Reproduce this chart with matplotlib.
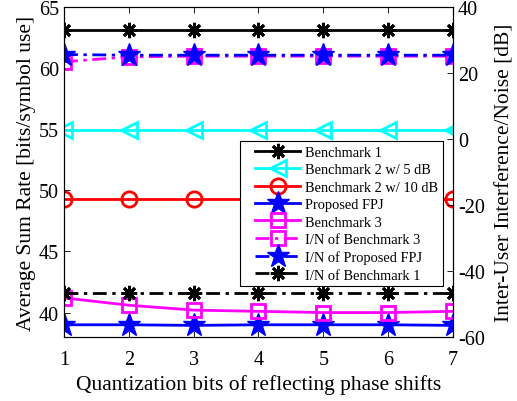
import matplotlib
matplotlib.use("Agg")
import matplotlib.pyplot as plt
from matplotlib.legend_handler import HandlerLine2D

plt.rcParams['font.family'] = ['Liberation Serif', 'DejaVu Serif']
plt.rcParams['axes.unicode_minus'] = False

# data
bits = [1, 2, 3, 4, 5, 6, 7]
bench1 = [63.1, 63.1, 63.1, 63.1, 63.1, 63.1, 63.1]
bench2_5db = [54.9, 54.9, 54.9, 54.9, 54.9, 54.9, 54.9]
bench2_10db = [49.3, 49.3, 49.3, 49.3, 49.3, 49.3, 49.3]
proposed = [39.0, 39.0, 38.95, 39.0, 39.0, 39.0, 38.95]
bench3 = [41.2, 40.6, 40.2, 40.1, 40.0, 40.0, 40.1]

in_bench3 = [23.4, 24.9, 25.1, 25.1, 25.1, 25.1, 25.1]
in_proposed = [25.6, 25.4, 25.4, 25.4, 25.4, 25.4, 25.4]
in_bench1 = [-46.8, -46.8, -46.8, -46.8, -46.8, -46.8, -46.8]

labels = ['Benchmark 1', 'Benchmark 2 w/ 5 dB', 'Benchmark 2 w/ 10 dB',
          'Proposed FPJ', 'Benchmark 3', 'I/N of Benchmark 3',
          'I/N of Proposed FPJ', 'I/N of Benchmark 1']

LW = 2.0
DASHDOT = (5, 2, 1.2, 2)
AST = (8, 2, 0)
PAD = 8.0  # pt of empty space left of the legend lines


class PadHandler(HandlerLine2D):
    # shift the legend line right a bit to leave room next to the frame
    def create_artists(self, legend, orig_handle, xdescent, ydescent,
                       width, height, fontsize, trans):
        return super().create_artists(legend, orig_handle, xdescent - PAD,
                                      ydescent, width - PAD, height,
                                      fontsize, trans)


fig = plt.figure(figsize=(5.17, 4.02), dpi=100)
ax = fig.add_axes([0.1238, 0.1592, 0.7524, 0.8209])
ax2 = ax.twinx()

h = []
h += ax.plot(bits, bench1, color='k', lw=LW, marker=AST, ms=11, mew=2)
h += ax.plot(bits, bench2_5db, color='cyan', lw=LW, marker='<', ms=12,
             mfc='none', mew=2)
h += ax.plot(bits, bench2_10db, color='red', lw=LW, marker='o', ms=11,
             mfc='none', mew=2)
h += ax.plot(bits, proposed, color='blue', lw=LW, marker='*', ms=17)
h += ax.plot(bits, bench3, color='magenta', lw=LW, marker='s', ms=10,
             mfc='none', mew=2)

h += ax2.plot(bits, in_bench3, color='magenta', lw=LW, ls=(0, DASHDOT),
              marker='s', ms=10, mfc='none', mew=2)
h += ax2.plot(bits, in_proposed, color='blue', lw=LW, ls=(0, DASHDOT),
              marker='*', ms=17)
h += ax2.plot(bits, in_bench1, color='k', lw=LW, ls=(0, DASHDOT),
              marker=AST, ms=11, mew=2)

ax.set_xlim(1, 7)
ax.set_ylim(38, 65)
ax.set_yticks([40, 45, 50, 55, 60, 65])
ax.set_xticks(bits)
ax2.set_ylim(-60, 40)
ax2.set_yticks([-60, -40, -20, 0, 20, 40])

ax.tick_params(direction='in', labelsize=14.5, top=True, length=4, width=0.6)
ax2.tick_params(direction='in', labelsize=14.5, length=4, width=0.6)
ax.tick_params(axis='x', pad=9)
for a in (ax, ax2):
    for s in a.spines.values():
        s.set_linewidth(0.8)

ax.set_xlabel('Quantization bits of reflecting phase shifts', fontsize=15.5,
              labelpad=4)
ax.set_ylabel('Average Sum Rate [bits/symbol use]', fontsize=15.5, labelpad=2)
ax2.set_ylabel('Inter-User Interference/Noise [dB]', fontsize=15.5,
               labelpad=8)

leg = ax2.legend(h, labels, loc='lower right', bbox_to_anchor=(0.974, 0.155),
                 fontsize=10.4, handlelength=3.9, handletextpad=0.35,
                 labelspacing=0.3, borderpad=0.3, borderaxespad=0,
                 fancybox=False, framealpha=1, edgecolor='k',
                 handler_map={h_: PadHandler() for h_ in h})
leg.get_frame().set_linewidth(0.8)

fig.savefig('out.png', dpi=100)
